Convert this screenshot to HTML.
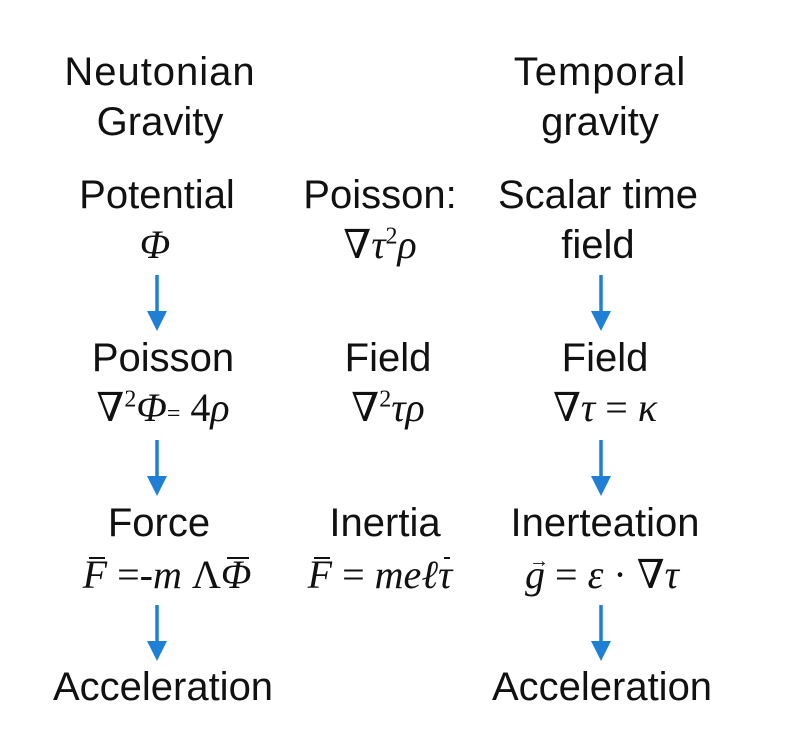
<!DOCTYPE html>
<html><head><meta charset="utf-8"><style>
html,body{margin:0;padding:0;background:#fff;}
body{width:792px;height:729px;position:relative;overflow:hidden;}
.t{position:absolute;width:300px;text-align:center;font-family:"Liberation Sans",sans-serif;font-size:40px;line-height:44px;height:44px;color:#111;white-space:nowrap;}
.m{font-family:"Liberation Serif","DejaVu Serif",serif;font-style:italic;font-size:40px;}
.m .u{font-style:normal;}
.v{position:relative;display:inline-block;}
.v .a{position:absolute;left:4px;right:0;top:-2px;font-size:20px;line-height:20px;font-style:normal;text-align:center;}
.v .o{position:absolute;left:6px;right:2px;top:4px;border-top:2px solid #111;}
sup{font-size:24px;font-style:normal;line-height:0;}
svg{position:absolute;left:0;top:0;}
</style></head><body>
<div class="t" style="left:10px;top:50px;letter-spacing:1px">Neutonian</div>
<div class="t" style="left:10px;top:100px">Gravity</div>
<div class="t" style="left:450px;top:50px;letter-spacing:1px">Temporal</div>
<div class="t" style="left:450px;top:100px">gravity</div>

<div class="t" style="left:7px;top:173px">Potential</div>
<div class="t m" style="left:5px;top:223px">Φ</div>
<div class="t" style="left:230px;top:173px">Poisson:</div>
<div class="t m" style="left:230px;top:223px"><span class="u">∇</span>τ<sup>2</sup>ρ</div>
<div class="t" style="left:448px;top:173px">Scalar time</div>
<div class="t" style="left:448px;top:223px">field</div>

<div class="t" style="left:13px;top:336px">Poisson</div>
<div class="t m" style="left:13px;top:386px"><span class="u">∇</span><sup>2</sup>Φ<span class="u" style="font-size:24px">=</span> <span class="u">4</span>ρ</div>
<div class="t" style="left:238px;top:336px">Field</div>
<div class="t m" style="left:238px;top:386px"><span class="u">∇</span><sup>2</sup>τρ</div>
<div class="t" style="left:455px;top:336px">Field</div>
<div class="t m" style="left:455px;top:386px"><span class="u">∇</span>τ <span class="u">=</span> κ</div>

<div class="t" style="left:9px;top:501px">Force</div>
<div class="t m" style="left:17px;top:553px"><span class="v">F<span class="o"></span></span> <span class="u">=-</span>m <span class="u">Λ</span><span class="v">Φ<span class="o"></span></span></div>
<div class="t m" style="left:230px;top:553px"><span class="v">F<span class="o"></span></span> <span class="u">=</span> meℓ<span class="v">τ<span class="o"></span></span></div>
<div class="t" style="left:235px;top:501px">Inertia</div>
<div class="t" style="left:455px;top:501px">Inerteation</div>
<div class="t m" style="left:452px;top:553px"><span class="v">g<span class="a">→</span></span> <span class="u">=</span> ε <span class="u">·</span> <span class="u">∇</span>τ</div>

<div class="t" style="left:13px;top:665px">Acceleration</div>
<div class="t" style="left:452px;top:665px">Acceleration</div>

<svg width="792" height="729">
<g fill="#1f7fd4" stroke="#1f7fd4">
<line x1="157" y1="275" x2="157" y2="316" stroke-width="3.5"/><polygon points="147,311 167,311 157,331" stroke="none"/>
<line x1="157" y1="440" x2="157" y2="481" stroke-width="3.5"/><polygon points="147,476 167,476 157,496" stroke="none"/>
<line x1="157" y1="605" x2="157" y2="646" stroke-width="3.5"/><polygon points="147,641 167,641 157,661" stroke="none"/>
<line x1="601" y1="275" x2="601" y2="316" stroke-width="3.5"/><polygon points="591,311 611,311 601,331" stroke="none"/>
<line x1="601" y1="440" x2="601" y2="481" stroke-width="3.5"/><polygon points="591,476 611,476 601,496" stroke="none"/>
<line x1="601" y1="605" x2="601" y2="646" stroke-width="3.5"/><polygon points="591,641 611,641 601,661" stroke="none"/>
</g>
</svg>
</body></html>
